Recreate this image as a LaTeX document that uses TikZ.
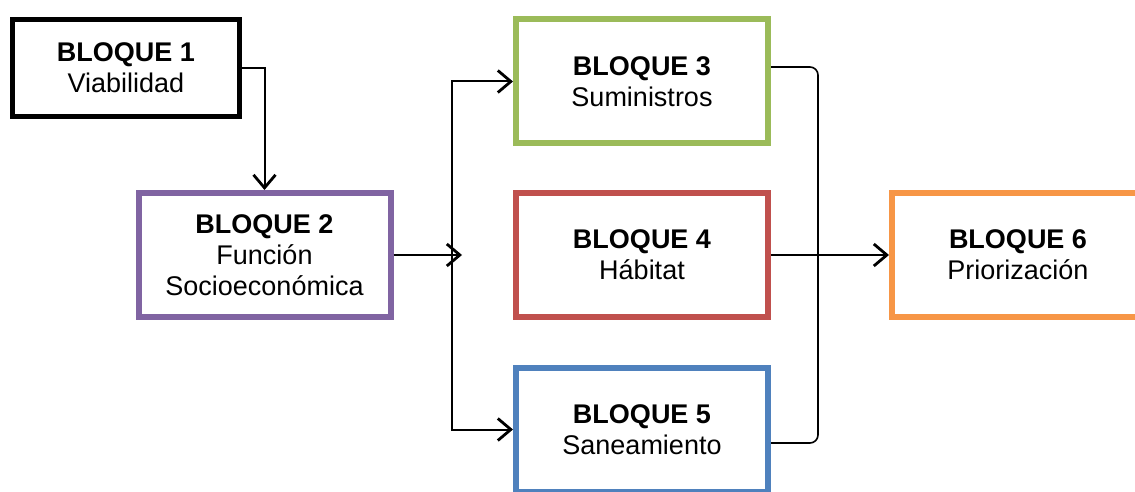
\documentclass[tikz,border=0pt]{standalone}
\usepackage{fontspec}
\setmainfont{Liberation Sans}
\usepackage{tikz}
\usetikzlibrary{arrows.meta}

\definecolor{verde}{HTML}{9BBB59}
\definecolor{rojo}{HTML}{C0504D}
\definecolor{azul}{HTML}{4F81BD}
\definecolor{morado}{HTML}{8064A2}
\definecolor{naranja}{HTML}{F79646}

\begin{document}
\begin{tikzpicture}[x=1pt,y=1pt,
    bloque/.style={draw=#1, line width=6pt, fill=white, align=center,
      minimum width=252pt, minimum height=124pt,
      font=\fontsize{27}{31}\selectfont},
    flecha/.style={line width=2pt,
      -{Straight Barb[length=13pt,width=22pt,line width=2.8pt]}}]
  \clip (0,0) rectangle (1135,491);
  \useasboundingbox (0,0) rectangle (1135,491);
  \begin{scope}
    \node[bloque=black, line width=5pt, minimum width=227pt, minimum height=97pt] (b1) at (126,423) {\textbf{BLOQUE 1}\\Viabilidad};
    \node[bloque=morado] (b2) at (264.5,236) {\textbf{BLOQUE 2}\\Función\\Socioeconómica};
    \node[bloque=verde] (b3) at (642,409.5) {\textbf{BLOQUE 3}\\Suministros};
    \node[bloque=rojo] (b4) at (642,236) {\textbf{BLOQUE 4}\\Hábitat};
    \node[bloque=azul] (b5) at (642,61.5) {\textbf{BLOQUE 5}\\Saneamiento};
    \node[bloque=naranja] (b6) at (1018,236) {\textbf{BLOQUE 6}\\Priorización};

    \coordinate (tronco) at (452,236);
    \coordinate (punta) at (462,236);
    \coordinate (cierre) at (818,236);

    \draw[flecha] (b1.east) -| (b2.north);
    \draw[flecha, line width=2.8pt] (b2.east) -- (punta);
    \draw[flecha] (tronco) |- (b3.west);
    \draw[flecha] (tronco) |- (b5.west);
    \draw[line width=1.6pt, rounded corners=8pt]
      ([yshift=14.5pt]b3.east) -- ([yshift=14.5pt]b3.east -| cierre)
      -- ([yshift=-13.5pt]b5.east -| cierre) -- ([yshift=-13.5pt]b5.east);
    \draw[flecha] (b4.east) -- (b6.west);
  \end{scope}
\end{tikzpicture}
\end{document}
